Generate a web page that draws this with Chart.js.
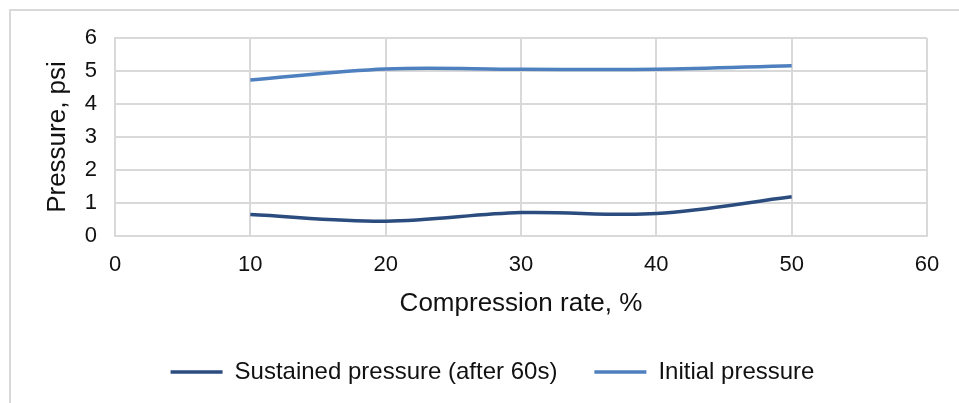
<!DOCTYPE html>
<html>
<head>
<meta charset="utf-8">
<script src="https://cdn.jsdelivr.net/npm/chart.js@4.4.1/dist/chart.umd.min.js"></script>
<style>
  html, body { margin: 0; padding: 0; background: #fff; overflow: hidden; }
  #frame { position: absolute; left: 9px; top: 9px; width: 1000px; height: 500px;
           border-left: 2px solid #d9d9d9; border-top: 2px solid #d9d9d9; }
  #wrap { position: absolute; left: 0; top: 0; width: 959px; height: 403px; }
</style>
</head>
<body>
<div id="frame"></div>
<div id="wrap"><canvas id="chart"></canvas></div>
<script>
const compression = [10, 20, 30, 40, 50];
const sustained = [0.65, 0.45, 0.71, 0.68, 1.19];
const initial = [4.73, 5.06, 5.05, 5.05, 5.16];
const xTicks = [0, 10, 20, 30, 40, 50, 60];
const yTicks = [0, 1, 2, 3, 4, 5, 6];

const toPoints = (ys) => compression.map((x, i) => ({ x: x, y: ys[i] }));

const ctx = document.getElementById("chart").getContext("2d");
new Chart(ctx, {
    type: "line",
    data: {
        datasets: [
            {
                label: "Sustained pressure (after 60s)",
                data: toPoints(sustained),
                borderColor: "#2b4c7e",
                backgroundColor: "#2b4c7e",
                borderWidth: 3.5,
                pointRadius: 0,
                tension: 0.35,
                fill: false
            },
            {
                label: "Initial pressure",
                data: toPoints(initial),
                borderColor: "#4e7fbf",
                backgroundColor: "#4e7fbf",
                borderWidth: 3.5,
                pointRadius: 0,
                tension: 0.35,
                fill: false
            }
        ]
    },
    options: {
        responsive: true,
        maintainAspectRatio: false,
        animation: false,
        layout: { padding: { left: 58, right: 32, top: 38, bottom: 9 } },
        plugins: {
            tooltip: { enabled: false },
            legend: {
                position: "bottom",
                labels: {
                    usePointStyle: true,
                    pointStyle: "line",
                    pointStyleWidth: 52,
                    padding: 37,
                    color: "#111",
                    font: { family: "'Liberation Sans', Arial, sans-serif", size: 24 }
                }
            }
        },
        scales: {
            x: {
                type: "linear",
                min: xTicks[0],
                max: xTicks[xTicks.length - 1],
                afterBuildTicks: (s) => { s.ticks = xTicks.map(v => ({ value: v })); },
                afterFit: (s) => { s.height = 87; },
                grid: { color: "#d9d9d9", lineWidth: 2, drawTicks: false },
                border: { color: "#d9d9d9", width: 2 },
                ticks: {
                    padding: 16,
                    color: "#111",
                    font: { family: "'Liberation Sans', Arial, sans-serif", size: 22 }
                },
                title: {
                    display: true,
                    text: "Compression rate, %",
                    color: "#111",
                    padding: { top: 0, bottom: 4 },
                    font: { family: "'Liberation Sans', Arial, sans-serif", size: 26 }
                }
            },
            y: {
                min: yTicks[0],
                max: yTicks[yTicks.length - 1],
                afterBuildTicks: (s) => { s.ticks = yTicks.map(v => ({ value: v })); },
                afterFit: (s) => { s.width = 115 - 58; },
                grid: { color: "#d9d9d9", lineWidth: 2, drawTicks: false },
                border: { color: "#d9d9d9", width: 2 },
                ticks: {
                    padding: 18,
                    color: "#111",
                    font: { family: "'Liberation Sans', Arial, sans-serif", size: 22 }
                },
                title: {
                    display: true,
                    text: "Pressure, psi",
                    color: "#111",
                    padding: { top: -15.6, bottom: 0 },
                    font: { family: "'Liberation Sans', Arial, sans-serif", size: 26 }
                }
            }
        }
    }
});
</script>
</body>
</html>
